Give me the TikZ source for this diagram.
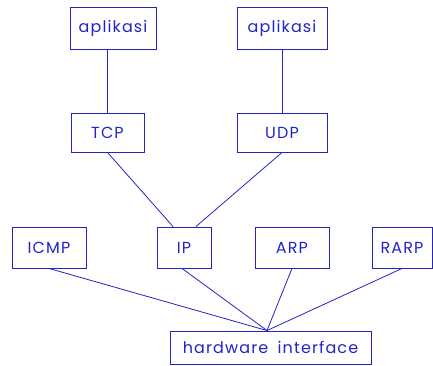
\documentclass[tikz,border=0pt]{standalone}
\usepackage{fontspec}
\setmainfont{Poppins}[LetterSpace=7]
\usepackage{tikz}
\usetikzlibrary{positioning}
\usetikzlibrary{calc}
\definecolor{netblue}{RGB}{35,35,200}
\tikzset{
    layer/.style={draw=netblue, text=netblue, line width=0.9pt, inner sep=0pt,
        minimum height=41pt, font=\fontsize{16}{18}\selectfont},
    link/.style={draw=netblue, line width=0.8pt},
}

\begin{document}
\begin{tikzpicture}[x=1pt, y=-1pt]
	\useasboundingbox (0,0) rectangle (433,365);
	\node[layer, minimum width=86pt, minimum height=42pt] (app1) at (113,28) {aplikasi};
	\node[layer, minimum width=90pt, minimum height=42pt] (app2) at (282,28) {aplikasi};
	\node[layer, minimum width=73pt, minimum height=39pt] (tcp) at (107.5,132.5) {TCP};
	\node[layer, minimum width=90pt, minimum height=39pt] (udp) at (282,132.5) {UDP};
	\node[layer, minimum width=74pt] (icmp) at (49,247.5) {ICMP};
	\node[layer, minimum width=54pt] (ip) at (184,247.5) {IP};
	\node[layer, minimum width=74pt] (arp) at (292,247.5) {ARP};
	\node[layer, minimum width=60pt] (rarp) at (402,247.5) {RARP};
	\node[layer, minimum width=201pt, minimum height=33pt] (hw) at (270.5,347.5) {hardware\hspace{4pt} interface};
	% meeting points
	\coordinate (ipl) at ($(ip.north)+(-11,0)$);
	\coordinate (ipr) at ($(ip.north)+(12,0)$);
	\coordinate (hwtop) at ($(hw.north)+(-3.5,0)$);
	\draw[link] (tcp.north) -- (tcp.north |- app1.south);
	\draw[link] (udp.north) -- (app2.south);
	\draw[link] (tcp.south) -- (ipl);
	\draw[link] (udp.south) -- (ipr);
	\draw[link] (icmp.south) -- (hwtop);
	\draw[link] ($(ip.south)+(-2,0)$) -- (hwtop);
	\draw[link] (arp.south) -- (hwtop);
	\draw[link] (rarp.south) -- (hwtop);
\end{tikzpicture}
\end{document}
